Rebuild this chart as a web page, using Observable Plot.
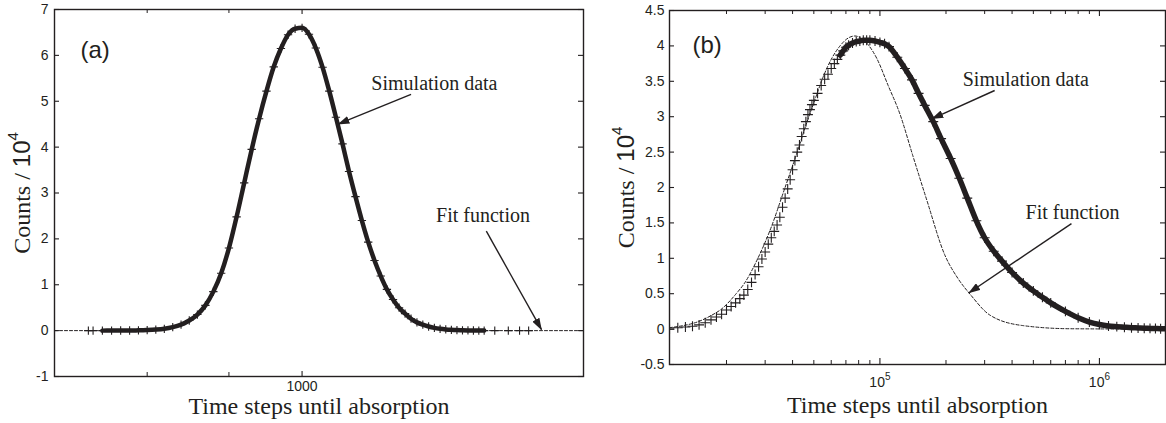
<!DOCTYPE html>
<html><head><meta charset="utf-8">
<script src="https://cdn.jsdelivr.net/npm/d3@7"></script>
<script src="https://cdn.jsdelivr.net/npm/@observablehq/plot@0.6"></script>
<style>
html,body{margin:0;padding:0;background:#fff;}
#wrap{display:flex;width:1166px;height:423px;overflow:hidden;}
#wrap svg{display:block;flex:none;}
</style></head><body><div id="wrap"></div>
<script>
// ---------- Panel (a) data ----------
const simAx = [735,740,750,760,770,780,790,800,810,820,830,840,850,860,870,880,890,900,910,920,930,940,950,960,970,980,990,1000,1010,1020,1030,1040,1050,1060,1070,1080,1090,1100,1110,1120,1130,1140,1150,1160,1170,1180,1190,1200,1210,1220,1230,1240,1250,1260,1270,1280,1290,1300,1320,1346,1368,1386];
const simAy = [0,0,0,0.001,0.002,0.003,0.006,0.012,0.022,0.04,0.075,0.13,0.22,0.35,0.55,0.85,1.25,1.8,2.48,3.22,3.95,4.62,5.22,5.75,6.15,6.45,6.58,6.6,6.46,6.16,5.74,5.22,4.65,4.07,3.47,2.92,2.4,1.93,1.53,1.19,0.9,0.68,0.5,0.37,0.26,0.18,0.13,0.09,0.06,0.04,0.026,0.017,0.011,0.007,0.004,0.002,0.001,0.001,0,0,0,0];
const fitAx = [700,760,800,830,860,880,900,920,940,960,980,1000,1020,1040,1060,1080,1100,1120,1140,1160,1190,1230,1280,1350,1500];
const fitAy = [0,0.001,0.012,0.07,0.35,0.85,1.8,3.22,4.62,5.75,6.45,6.6,6.16,5.22,4.07,2.92,1.93,1.19,0.68,0.37,0.13,0.026,0.002,0,0];
const yTicksA = [-1,0,1,2,3,4,5,6,7];
const xMajorA = [1000];
const xMinorA = [800,900];
const annTextA = ["Simulation data","Fit function"];
const annXA = [1105,1213];
const annYA = [5.24,2.37];
const arrowFromA = [[1170,5.15],[1304,2.17]];
const arrowToA = [[1053,4.5],[1412,0.02]];

// ---------- Panel (b) data ----------
const simBx = [11000,12000,13000,14000,15000,16000,17000,18000,19000,20000,21000,22000,23000,24000,25000,26000,27000,28000,29000,30000,31000,32000,33000,34000,35000,36000,37000,38000,39000,40000,41000,42000,43000,44000,45000,46000,47000,48000,49000,50000,52000,54000,56000,58000,60000,62000,64000,66000,68000,70000,72000,75000,78000,81000,84000,87000,90000,95000,100000,105000,110000,120000,130000,140000,150000,160000,175000,190000,210000,230000,250000,275000,300000,330000,360000,400000,450000,500000,550000,600000,700000,800000,900000,1000000,1100000,1200000,1300000,1400000,1500000,1600000,1700000,1800000,1900000,2000000];
const simBy = [0,0.02,0.03,0.04,0.06,0.09,0.13,0.17,0.21,0.27,0.32,0.37,0.43,0.48,0.56,0.66,0.77,0.88,0.99,1.09,1.2,1.29,1.38,1.47,1.58,1.72,1.85,1.98,2.11,2.25,2.38,2.5,2.6,2.72,2.83,2.93,3.03,3.1,3.17,3.23,3.33,3.44,3.53,3.6,3.68,3.75,3.81,3.87,3.93,3.98,4.01,4.04,4.06,4.07,4.08,4.08,4.08,4.07,4.05,4.03,3.99,3.84,3.68,3.52,3.33,3.16,2.93,2.69,2.41,2.13,1.85,1.53,1.29,1.1,0.96,0.8,0.65,0.54,0.45,0.37,0.25,0.16,0.1,0.065,0.045,0.035,0.027,0.02,0.016,0.012,0.01,0.008,0.006,0.005];
const fitBx = [11000,12730,14720,17220,18740,22140,24300,27600,31620,36970,42000,46600,50700,55100,60500,65800,71600,77000,82800,88200,96900,108700,123300,141200,163600,197300,226200,259500,316200,446700,738000,2000000];
const fitBy = [0.02,0.05,0.1,0.2,0.27,0.5,0.66,0.98,1.4,2.0,2.5,2.93,3.25,3.56,3.83,4.0,4.11,4.14,4.1,4.02,3.82,3.45,3.04,2.45,1.82,1.05,0.72,0.48,0.2,0.05,0.005,0];
const yTicksB = [-0.5,0,0.5,1,1.5,2,2.5,3,3.5,4,4.5];
const xMajorB = [1e5,1e6];
const xMinorB = [20000,30000,40000,50000,60000,70000,80000,90000,200000,300000,400000,500000,600000,700000,800000,900000];
const annTextB = ["Simulation data","Fit function"];
const annXB = [238400,460900];
const annYB = [3.44,1.55];
const arrowFromB = [[333200,3.37],[745800,1.49]];
const arrowToB = [[172300,2.97],[253800,0.51]];

const xLabel = "Time steps until absorption";
const yLabel = "Counts / 10^4";

// ---------- rendering ----------
const INK = "#231f20";
const SANS = "Liberation Sans, Arial, sans-serif";
const SERIF = "Liberation Serif, Times New Roman, serif";

function zip(xs, ys) { return xs.map((x, i) => ({x, y: ys[i]})); }

function panel(c) {
  const innerW = c.width - c.ml - c.mr;
  const innerH = c.height - c.mt - c.mb;
  const sim = zip(c.simX, c.simY);
  const fit = zip(c.fitX, c.fitY);
  const ann = c.annText.map((t, i) => ({t, x: c.annX[i], y: c.annY[i]}));
  const arrows = c.arrowFrom.map((f, i) => ({x1: f[0], y1: f[1], x2: c.arrowTo[i][0], y2: c.arrowTo[i][1]}));
  return Plot.plot({
    width: c.width, height: c.height,
    marginLeft: c.ml, marginRight: c.mr, marginTop: c.mt, marginBottom: c.mb,
    style: {fontFamily: SANS, fontSize: "14px", color: INK, background: "white", overflow: "visible"},
    x: {type: "log", domain: c.xDomain, axis: null},
    y: {domain: c.yDomain, axis: null},
    marks: [
      // inward ticks
      Plot.tickY(c.yTicks, {y: d => d, insetRight: innerW - 5, stroke: INK, strokeWidth: 1.1}),
      Plot.tickY(c.yTicks, {y: d => d, insetLeft: innerW - 5, stroke: INK, strokeWidth: 1.1}),
      Plot.tickX(c.xMajor, {x: d => d, insetTop: innerH - c.majorLen, stroke: INK, strokeWidth: 1.1}),
      Plot.tickX(c.xMajor, {x: d => d, insetBottom: innerH - c.majorLen, stroke: INK, strokeWidth: 1.1}),
      Plot.tickX(c.xMinor, {x: d => d, insetTop: innerH - c.minorLen, stroke: INK, strokeWidth: 1}),
      Plot.tickX(c.xMinor, {x: d => d, insetBottom: innerH - c.minorLen, stroke: INK, strokeWidth: 1}),
      // tick labels
      Plot.axisY({ticks: c.yTicks, tickSize: 0, tickPadding: c.yPad, tickFormat: d => String(d), label: null, fill: INK}),
      Plot.axisX({ticks: c.xMajor, tickSize: 0, tickPadding: c.xPad, tickFormat: c.xFormat, label: null, fill: INK}),
      // data
      Plot.line(sim.filter(c.thickFilter), {x: "x", y: "y", stroke: INK, strokeWidth: c.thick, curve: "monotone-x", clip: true}),
      Plot.dot(sim, {x: "x", y: "y", symbol: "plus", r: c.markR, stroke: INK, strokeWidth: 1.1, clip: true}),
      Plot.line(fit, {x: "x", y: "y", stroke: INK, strokeWidth: 1, strokeDasharray: "3,2", curve: "monotone-x", clip: true}),
      // frame
      Plot.frame({stroke: INK, strokeWidth: 1.4}),
      // annotations
      Plot.link(arrows, {x1: "x1", y1: "y1", x2: "x2", y2: "y2", stroke: INK, strokeWidth: 1.4}),
      Plot.text(ann, {x: "x", y: "y", text: "t", textAnchor: "start", lineAnchor: "bottom", fontFamily: SERIF, fontSize: 20, fill: INK}),
      Plot.text([c.tag], {frameAnchor: "top-left", text: d => d, dx: c.tagDx, dy: c.tagDy, textAnchor: "start", lineAnchor: "bottom", fontSize: 24, fontFamily: SANS, fill: INK}),
      // axis titles
      Plot.text([xLabel], {frameAnchor: "bottom", text: d => d, dy: c.xLabDy, textAnchor: "middle", lineAnchor: "bottom", fontSize: 24, fontFamily: SERIF, fill: INK}),
      Plot.text([yLabel], {frameAnchor: "left", text: d => d, dx: c.yLabDx, rotate: -90, textAnchor: "middle", lineAnchor: "bottom", fontSize: 24, fontFamily: SERIF, fill: INK})
    ]
  });
}

function finish(svg, id) {
  const root = d3.select(svg);
  root.selectAll('g[aria-label$="tick label"]').attr("font-size", 14).attr("font-family", SANS);
  // filled arrowheads on annotation links
  const defs = root.insert("defs", ":first-child");
  defs.append("marker")
    .attr("id", id).attr("viewBox", "0 0 12 8").attr("refX", 11.5).attr("refY", 4)
    .attr("markerWidth", 12).attr("markerHeight", 8)
    .attr("markerUnits", "userSpaceOnUse").attr("orient", "auto")
    .append("path").attr("d", "M0,0L12,4L0,8Z").attr("fill", INK);
  root.selectAll('g[aria-label="link"] path').attr("marker-end", `url(#${id})`);
  // superscripts
  root.selectAll("text").each(function() {
    const t = this.textContent;
    const m = t.match(/^(.*?)10\^(\d+)$/);
    if (!m) return;
    const sel = d3.select(this);
    sel.text(null);
    if (m[1].length) {
      sel.append("tspan").text(m[1]);
      sel.append("tspan").attr("font-family", SANS).text("10");
      sel.append("tspan").attr("font-family", SANS).attr("font-size", 15).attr("dy", -12).text(m[2]);
    } else {
      sel.append("tspan").text("10");
      sel.append("tspan").attr("font-size", 10).attr("dy", -7).text(m[2]);
    }
  });
}

const svgA = panel({
  width: 590, height: 423, ml: 54, mr: 7, mt: 9, mb: 47,
  xDomain: [700, 1500], yDomain: [-1, 7],
  simX: simAx, simY: simAy, fitX: fitAx, fitY: fitAy,
  yTicks: yTicksA, xMajor: xMajorA, xMinor: xMinorA, majorLen: 5, minorLen: 4,
  yPad: 6, xPad: 5, xFormat: d => String(d),
  thick: 4.5, markR: 2.8, thickFilter: d => d.x >= 745 && d.x <= 1300,
  annText: annTextA, annX: annXA, annY: annYA, arrowFrom: arrowFromA, arrowTo: arrowToA,
  tag: "(a)", tagDx: 26, tagDy: 48, xLabDy: 37, yLabDx: -25
});
const svgB = panel({
  width: 576, height: 423, ml: 79, mr: 1, mt: 10, mb: 59,
  xDomain: [11000, 2000000], yDomain: [-0.5, 4.5],
  simX: simBx, simY: simBy, fitX: fitBx, fitY: fitBy,
  yTicks: yTicksB, xMajor: xMajorB, xMinor: xMinorB, majorLen: 6, minorLen: 4,
  yPad: 5, xPad: 13, xFormat: d => "10^" + Math.round(Math.log10(d)),
  thick: 5.5, markR: 3.3, thickFilter: d => d.x >= 66000,
  annText: annTextB, annX: annXB, annY: annYB, arrowFrom: arrowFromB, arrowTo: arrowToB,
  tag: "(b)", tagDx: 23, tagDy: 42, xLabDy: 48, yLabDx: -36
});
finish(svgA, "ahA");
finish(svgB, "ahB");
document.getElementById("wrap").append(svgA, svgB);
</script></body></html>
